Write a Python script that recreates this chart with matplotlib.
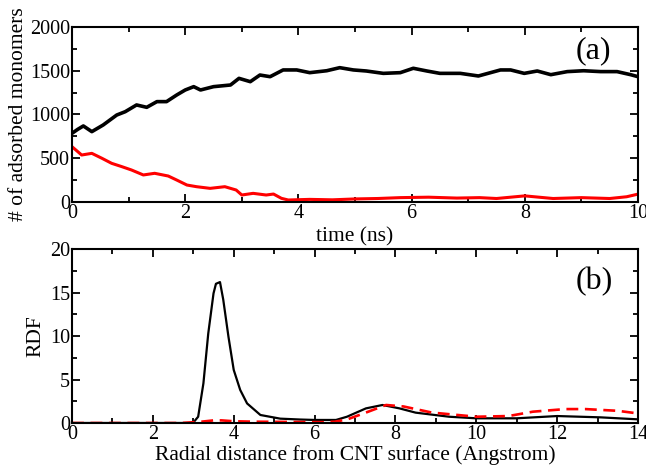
import matplotlib
matplotlib.use("Agg")
import matplotlib.pyplot as plt
from matplotlib.ticker import MultipleLocator

plt.rcParams['font.family'] = ['Liberation Serif', 'DejaVu Serif']

# ---- panel (a): adsorbed monomers vs time ----
t_black = [0, 0.1, 0.2, 0.35, 0.55, 0.79, 0.94, 1.14, 1.32, 1.5, 1.67, 1.85, 2.0, 2.15,
           2.27, 2.5, 2.8, 2.95, 3.15, 3.32, 3.5, 3.73, 3.97, 4.2, 4.5, 4.73, 4.97, 5.2,
           5.5, 5.8, 6.03, 6.27, 6.5, 6.86, 7.18, 7.57, 7.75, 7.99, 8.22, 8.46, 8.75,
           9.04, 9.34, 9.63, 9.87, 10.0]
n_black = [785, 830, 869, 804, 880, 994, 1032, 1109, 1082, 1147, 1147, 1223, 1280, 1318,
           1280, 1318, 1337, 1413, 1375, 1451, 1432, 1509, 1509, 1478, 1500, 1535, 1509,
           1497, 1470, 1478, 1528, 1497, 1470, 1470, 1440, 1509, 1509, 1470, 1497, 1455,
           1490, 1500, 1490, 1490, 1455, 1432]

t_red = [0, 0.17, 0.35, 0.53, 0.7, 0.88, 1.05, 1.26, 1.46, 1.7, 1.85, 2.03, 2.2, 2.44,
         2.7, 2.9, 3.0, 3.2, 3.43, 3.56, 3.7, 3.82, 4.2, 4.6, 5.0, 5.4, 5.8, 6.3, 6.8,
         7.2, 7.5, 8.0, 8.5, 9.0, 9.5, 9.8, 10.0]
n_red = [632, 537, 556, 499, 442, 404, 366, 309, 328, 297, 251, 194, 175, 156, 175, 137,
         80, 99, 80, 91, 42, 23, 30, 25, 35, 40, 50, 55, 45, 50, 40, 70, 40, 50, 40, 60, 90]

# ---- panel (b): RDF ----
r_black = [0, 2.9, 3.0, 3.12, 3.25, 3.37, 3.5, 3.56, 3.66, 3.74, 3.87, 4.0, 4.16, 4.33,
           4.66, 5.15, 5.64, 6.0, 6.53, 6.8, 7.27, 7.68, 8.1, 8.5, 9.33, 10.0, 11.0,
           12.0, 13.07, 14.0]
g_black = [0, 0, 0.05, 0.72, 4.56, 10.3, 14.9, 16.0, 16.2, 14.2, 9.9, 6.1, 3.8, 2.25,
           0.92, 0.5, 0.4, 0.35, 0.35, 0.72, 1.68, 2.07, 1.68, 1.19, 0.72, 0.54, 0.54,
           0.80, 0.65, 0.42]

r_red = [0, 2.7, 3.2, 3.5, 3.7, 4.0, 4.5, 5.5, 6.2, 6.5, 6.8, 7.27, 7.77, 8.2, 8.9,
         10.0, 10.8, 11.4, 12.2, 12.7, 13.5, 14.0]
g_red = [0, 0, 0.15, 0.3, 0.3, 0.2, 0.15, 0.12, 0.1, 0.15, 0.4, 1.2, 2.07, 1.9, 1.2,
         0.72, 0.8, 1.3, 1.6, 1.6, 1.4, 1.1]

fig = plt.figure(figsize=(6.46, 4.70), dpi=100)
ax1 = fig.add_axes([0.1115, 0.5702, 0.8761, 0.3724])
ax2 = fig.add_axes([0.1115, 0.1000, 0.8761, 0.3702])

ax1.plot(t_black, n_black, color='black', lw=2.6)
ax1.plot(t_red, n_red, color='red', lw=2.2)
ax1.set_xlim(0, 10)
ax1.set_ylim(0, 2000)
ax1.xaxis.set_major_locator(MultipleLocator(2))
ax1.xaxis.set_minor_locator(MultipleLocator(1))
ax1.yaxis.set_major_locator(MultipleLocator(500))
ax1.yaxis.set_minor_locator(MultipleLocator(250))
ax1.set_xlabel('time (ns)', fontsize=15.5, labelpad=3)
ax1.set_ylabel('# of adsorbed monomers', fontsize=15.5, labelpad=1)
ax1.text(0.952, 0.863, '(a)', transform=ax1.transAxes, ha='right', va='center', fontsize=23)

ax2.plot(r_black, g_black, color='black', lw=1.6)
ax2.plot(r_red, g_red, color='red', lw=1.9, dashes=(4.5, 2.5))
ax2.set_xlim(0, 14)
ax2.set_ylim(0, 20)
ax2.xaxis.set_major_locator(MultipleLocator(2))
ax2.xaxis.set_minor_locator(MultipleLocator(1))
ax2.yaxis.set_major_locator(MultipleLocator(5))
ax2.yaxis.set_minor_locator(MultipleLocator(2.5))
ax2.set_xlabel('Radial distance from CNT surface (Angstrom)', fontsize=15.5, labelpad=1)
ax2.set_ylabel('RDF', fontsize=15.5, labelpad=3)
ax2.text(0.955, 0.81, '(b)', transform=ax2.transAxes, ha='right', va='center', fontsize=23)

for ax in (ax1, ax2):
    for s in ax.spines.values():
        s.set_linewidth(1.5)
    ax.tick_params(which='both', direction='in', top=True, right=True, labelsize=14.5,
                   width=1.3, pad=1.5)
    ax.tick_params(which='major', length=6)
    ax.tick_params(which='minor', length=3.5)

fig.savefig('out.png', dpi=100)
